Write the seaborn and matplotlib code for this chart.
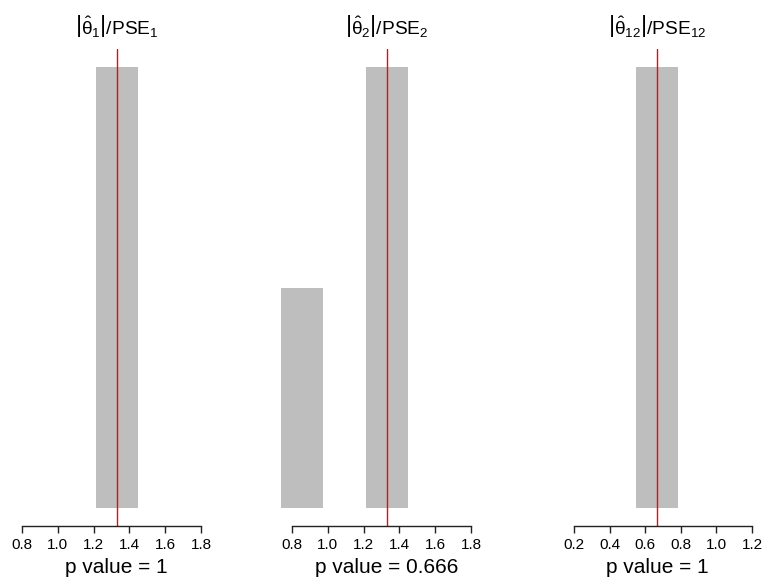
import numpy as np
import pandas as pd
import matplotlib
matplotlib.use("Agg")
import matplotlib.pyplot as plt
import seaborn as sns

# ---- data ----
titles = [r"$\left|\hat{\mathrm{\theta}}_1\right|/\mathrm{PSE}_1$",
          r"$\left|\hat{\mathrm{\theta}}_2\right|/\mathrm{PSE}_2$",
          r"$\left|\hat{\mathrm{\theta}}_{12}\right|/\mathrm{PSE}_{12}$"]
p_values = ["1", "0.666", "1"]
bin_edges_1 = [1.213, 1.448]
counts_1 = [3]
bin_edges_2 = [0.739, 0.975, 1.211, 1.448]
counts_2 = [1, 0, 2]
bin_edges_3 = [0.548, 0.784]
counts_3 = [3]
observed = [1.333, 1.333, 0.667]
xticks_1 = [0.8, 1.0, 1.2, 1.4, 1.6, 1.8]
xticks_2 = [0.8, 1.0, 1.2, 1.4, 1.6, 1.8]
xticks_3 = [0.2, 0.4, 0.6, 0.8, 1.0, 1.2]

sns.set_style("white")
plt.rcParams["font.family"] = ["Liberation Sans", "DejaVu Sans"]
plt.rcParams["mathtext.fontset"] = "custom"
plt.rcParams["mathtext.rm"] = "Liberation Sans"
plt.rcParams["mathtext.it"] = "Liberation Sans:italic"
plt.rcParams["mathtext.bf"] = "Liberation Sans:bold"
plt.rcParams["text.color"] = "black"
plt.rcParams["axes.labelcolor"] = "black"
plt.rcParams["xtick.color"] = "black"

W, H = 766, 582
fig = plt.figure(figsize=(W / 100, H / 100), dpi=100)

panels = [
    (bin_edges_1, counts_1, xticks_1, (0.7134, 1.9425), (6.5, 226.5)),
    (bin_edges_2, counts_2, xticks_2, (0.7162, 1.9453), (277.0, 497.0)),
    (bin_edges_3, counts_3, xticks_3, (0.0483, 1.2843), (547.0, 767.0)),
]
top_px, bot_px = 49.4, 525.6

for i, (edges, counts, ticks, xlim, (lpx, rpx)) in enumerate(panels):
    ax = fig.add_axes([lpx / W, (H - bot_px) / H, (rpx - lpx) / W, (bot_px - top_px) / H])
    centers = [(a + b) / 2 for a, b in zip(edges[:-1], edges[1:])]
    df = pd.DataFrame({"x": centers, "w": counts})
    sns.histplot(data=df, x="x", weights="w", bins=list(edges), ax=ax,
                 color="#BEBEBE", alpha=1, linewidth=0, edgecolor="none")
    m = max(counts)
    ax.set_ylim(-0.04 * m, 1.04 * m)
    ax.set_xlim(*xlim)
    ax.axvline(observed[i], color="red", lw=1)
    for s in ["left", "top", "right"]:
        ax.spines[s].set_visible(False)
    ax.spines["bottom"].set_bounds(ticks[0], ticks[-1])
    ax.spines["bottom"].set_color("#222222")
    ax.spines["bottom"].set_linewidth(1)
    ax.set_xticks(ticks)
    ax.set_xticklabels([f"{t:.1f}" for t in ticks])
    ax.tick_params(axis="x", direction="out", length=5, width=1, color="#222222",
                   labelsize=11, labelcolor="black", pad=4, bottom=True)
    ax.set_yticks([])
    ax.set_ylabel("")
    ax.set_xlabel(f"p value = {p_values[i]}", fontsize=15, labelpad=4)
    ax.set_title(titles[i], fontsize=13.8, pad=11)
    ax.patch.set_alpha(0)

fig.savefig("out.png", dpi=100)
